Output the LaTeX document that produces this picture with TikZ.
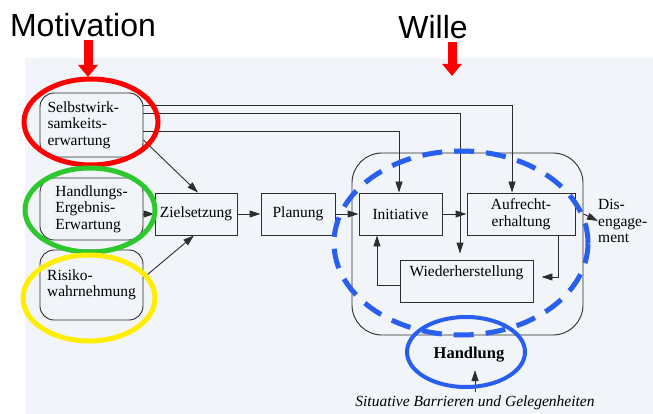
\documentclass[tikz,border=0pt]{standalone}
\usepackage{fontspec}
\setmainfont{Liberation Serif}
\newfontfamily\headfont{Liberation Sans}
\usetikzlibrary{arrows.meta,positioning}

\definecolor{scanbg}{RGB}{241,244,248}
\definecolor{ink}{RGB}{45,45,45}
\definecolor{markred}{RGB}{255,0,0}
\definecolor{markgreen}{RGB}{45,200,45}
\definecolor{markyellow}{RGB}{255,238,0}
\definecolor{markblue}{RGB}{40,95,240}

\tikzset{
  factor/.style={draw=ink, line width=0.9pt, rounded corners=14pt, minimum width=103pt, minimum height=64pt, align=left, inner sep=6pt},
  stage/.style={draw=ink, line width=0.9pt, minimum height=42pt, align=center, inner sep=3pt},
  flow/.style={draw=ink, line width=0.9pt, -{Triangle[length=11pt,width=7pt]}},
  hint/.style={markred, line width=9pt, -{Triangle[length=12pt,width=19pt]}},
  ring/.style={line width=5pt},
  head/.style={font=\headfont\fontsize{32}{36}\selectfont},
}

\begin{document}
\begin{tikzpicture}[x=1pt,y=-1pt,font=\fontsize{15.5}{16.5}\selectfont]
	\useasboundingbox (0,0) rectangle (653,414);
	% scanned page
	\fill[scanbg] (25,58) rectangle (653,414);
	% headings
	\node[head] (motiv) at (83,25) {Motivation};
	\node[head] (wille) at (433,27) {Wille};
	\coordinate (motivtip) at (88,77);
	\coordinate (willetip) at (452,76);
	\draw[hint] (motivtip |- motiv.south) -- (motivtip);
	\draw[hint] (willetip |- wille.south) -- (willetip);
	% motivational factors
	\node[factor, text width=88pt] (selbst) at (91.5,125) {Selbstwirk-\\samkeits-\\erwartung};
	\node[factor, minimum height=62pt] (ergebnis) at (91.5,209) {Handlungs-\\Ergebnis-\\Erwartung};
	\node[factor, minimum height=70pt] (risiko) at (91.5,285) {Risiko-\\wahrnehmung};
	% stages
	\node[stage, minimum width=82pt] (ziel) at (196,214) {Zielsetzung};
	\node[stage, minimum width=74pt] (plan) at (298,214) {Planung};
	\node[draw=ink, line width=0.9pt, rounded corners=30pt, minimum width=231pt, minimum height=182pt] (willebox) at (467.5,244) {};
	\node[stage, minimum width=83pt] (init) at (400.5,214) {Initiative};
	\node[stage, minimum width=108pt] (aufr) at (521,214) {Aufrecht-\\erhaltung};
	\node[stage, minimum width=133pt, text height=12pt, text depth=22pt, inner ysep=4pt] (wieder) at (466.5,281) {Wiederherstellung};
	\node[anchor=west, align=left, inner sep=0pt] (dis) at (598,221) {Dis-\\engage-\\ment};
	\node[font=\bfseries\fontsize{16.5}{18}\selectfont] (handl) at (469,355) {Handlung};
	\node[font=\itshape\fontsize{15.5}{16.5}\selectfont] (barr) at (475,403) {Situative Barrieren und Gelegenheiten};
	% connectors
	\draw[flow] ([yshift=20pt]selbst.east) -| ([xshift=-9pt]aufr.north);
	\draw[flow] ([yshift=12pt]selbst.east) -| ([xshift=-6.5pt,yshift=6pt]wieder.north);
	\draw[flow] ([yshift=-6pt]selbst.east) -| ([xshift=-1.5pt]init.north);
	\draw[flow] ([yshift=-15pt]selbst.east) -- ([xshift=2pt]ziel.north);
	\draw[flow] (ergebnis.east |- ziel) -- (ziel.west);
	\draw[flow] ([yshift=7pt]risiko.east) -- ([xshift=-2pt]ziel.south);
	\draw[flow] (ziel.east) -- (plan.west);
	\draw[flow] (plan.east) -- (init.west);
	\draw[flow] (init.east) -- (aufr.west);
	\draw[flow] (willebox.east |- aufr) -- (dis.west);
	\draw[flow] ([xshift=37pt]aufr.south) |- ([xshift=8pt,yshift=4pt]wieder.east);
	\draw[flow] ([yshift=-4pt]wieder.west) -| ([xshift=-23.5pt]init.south);
	\draw[flow] (barr.north) -- ([yshift=-4pt]barr.north |- handl.south);
	% marker rings
	\draw[markred, ring] (91,122) ellipse [x radius=67pt, y radius=43pt];
	\draw[markgreen, ring] (90,210) ellipse [x radius=65pt, y radius=42pt];
	\draw[markyellow, ring] (89,298) ellipse [x radius=66pt, y radius=43pt];
	\draw[markblue, line width=5pt, dash pattern=on 20pt off 12pt] (461,243) ellipse [x radius=127pt, y radius=92pt];
	\draw[markblue, line width=4pt] (466,352) ellipse [x radius=59pt, y radius=35pt];
\end{tikzpicture}
\end{document}
